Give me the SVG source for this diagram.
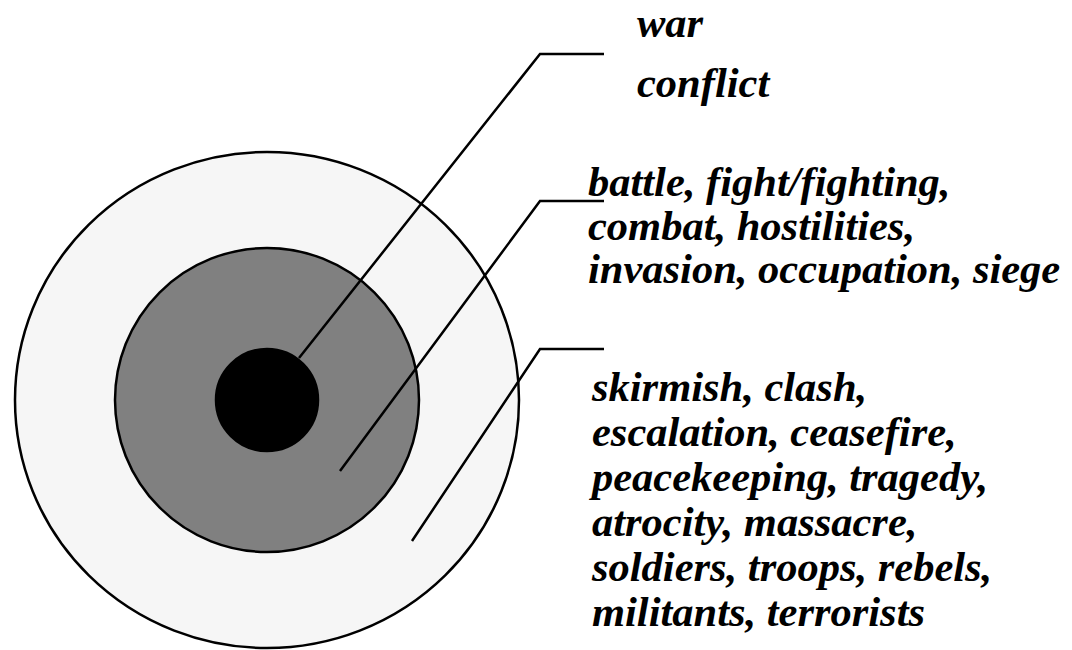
<svg xmlns="http://www.w3.org/2000/svg" width="1072" height="650" viewBox="0 0 1072 650">
<style>
.ring{stroke:#000;stroke-width:2.5}
.lbl{font-family:'Liberation Serif','Times New Roman',serif;font-weight:700;font-style:italic;font-size:42.5px;fill:#000}
.conn{fill:none;stroke:#000;stroke-width:2.5;stroke-linejoin:miter}
</style>
<rect width="1072" height="650" fill="#fff"/>
<g id="outer-ring"><ellipse class="ring" cx="267" cy="400" rx="252" ry="248" fill="#f6f6f6"/></g>
<g id="middle-ring"><circle class="ring" cx="267" cy="400" r="152" fill="#808080"/></g>
<g id="core"><circle class="ring" cx="267" cy="400" r="51" fill="#000"/></g>
<g id="connectors">
<polyline class="conn" points="299,358 540,54 604,54"/>
<polyline class="conn" points="340,471 540,201 604,201"/>
<polyline class="conn" points="412,541 540,349 604,349"/>
</g>
<g id="label-core">
<text class="lbl" x="637" y="37">war</text>
<text class="lbl" x="637" y="97">conflict</text>
</g>
<g id="label-middle">
<text class="lbl" x="588" y="196">battle, fight/fighting,</text>
<text class="lbl" x="588" y="240">combat, hostilities,</text>
<text class="lbl" x="588" y="283">invasion, occupation, siege</text>
</g>
<g id="label-outer">
<text class="lbl" x="592" y="401">skirmish, clash,</text>
<text class="lbl" x="592" y="446">escalation, ceasefire,</text>
<text class="lbl" x="592" y="491">peacekeeping, tragedy,</text>
<text class="lbl" x="592" y="536">atrocity, massacre,</text>
<text class="lbl" x="592" y="581">soldiers, troops, rebels,</text>
<text class="lbl" x="592" y="626">militants, terrorists</text>
</g>
</svg>
